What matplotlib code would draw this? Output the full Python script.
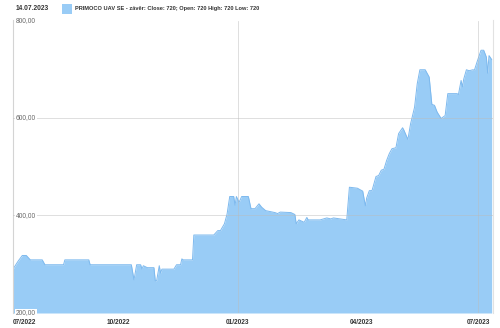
import matplotlib
matplotlib.use("Agg")
import matplotlib.pyplot as plt
import pandas as pd

plt.rcParams['font.family'] = ['Liberation Sans', 'DejaVu Sans']

title_date = "14.07.2023"
series_label = "PRIMOCO UAV SE - závěr: Close: 720; Open: 720 High: 720 Low: 720"

dates = ['2022-07-16','2022-07-20','2022-07-23','2022-07-26','2022-07-29','2022-08-07','2022-08-09','2022-08-23','2022-08-24','2022-09-11',
         '2022-09-12','2022-10-13','2022-10-15','2022-10-17','2022-10-20','2022-10-21','2022-10-22','2022-10-25','2022-10-30','2022-10-31',
         '2022-11-01','2022-11-03','2022-11-04','2022-11-05','2022-11-14','2022-11-16','2022-11-19','2022-11-20','2022-11-21','2022-11-28',
         '2022-11-29','2022-12-14','2022-12-17','2022-12-19','2022-12-22','2022-12-24','2022-12-26','2022-12-29','2022-12-30','2022-12-31',
         '2023-01-02','2023-01-04','2023-01-09','2023-01-11','2023-01-14','2023-01-17','2023-01-19','2023-01-22','2023-01-29','2023-01-31',
         '2023-02-02','2023-02-10','2023-02-13','2023-02-14','2023-02-16','2023-02-20','2023-02-22','2023-02-23','2023-03-04','2023-03-09',
         '2023-03-12','2023-03-14','2023-03-24','2023-03-26','2023-04-01','2023-04-05','2023-04-07','2023-04-08','2023-04-10','2023-04-12',
         '2023-04-15','2023-04-17','2023-04-19','2023-04-21','2023-04-23','2023-04-25','2023-04-27','2023-04-30','2023-05-02','2023-05-05',
         '2023-05-06','2023-05-09','2023-05-11','2023-05-14','2023-05-16','2023-05-18','2023-05-22','2023-05-25','2023-05-27','2023-05-29',
         '2023-05-31','2023-06-03','2023-06-06','2023-06-08','2023-06-15','2023-06-16','2023-06-18','2023-06-19','2023-06-20','2023-06-22',
         '2023-06-24','2023-06-27','2023-06-28','2023-06-30','2023-07-03','2023-07-05','2023-07-07','2023-07-08','2023-07-09','2023-07-11']

close = [290, 307, 318, 318, 309, 309, 299, 299, 309, 309,
         299, 299, 268, 299, 299, 290, 297, 293, 293, 266,
         266, 297, 282, 290, 290, 299, 299, 311, 309, 309,
         360, 360, 369, 369, 383, 403, 439, 439, 421, 439,
         427, 439, 439, 414, 414, 424, 417, 410, 406, 404,
         407, 406, 402, 383, 391, 386, 396, 391, 391, 395,
         393, 395, 391, 458, 456, 450, 420, 436, 451, 451,
         480, 482, 493, 495, 513, 527, 537, 539, 568, 580,
         575, 556, 588, 622, 670, 699, 699, 684, 628, 626,
         612, 599, 605, 650, 650, 648, 677, 664, 680, 699,
         697, 699, 698, 715, 739, 739, 725, 692, 728, 720]

y_ticks = [200, 400, 600, 800]
y_tick_labels = ["200,00", "400,00", "600,00", "800,00"]
x_tick_dates = ['2022-07-16', '2022-10-03', '2023-01-01', '2023-04-04', '2023-07-01']
x_tick_labels = ["07/2022", "10/2022", "01/2023", "04/2023", "07/2023"]
v_grid_dates = ['2023-01-01', '2023-07-01']

d = pd.to_datetime(dates)

fig = plt.figure(figsize=(5.0, 3.28), dpi=100)
ax = fig.add_axes([13/500, 1-313/328, 480/500, (313-20.5)/328])

fill_c = '#99ccf6'
line_c = '#7db9ee'
ax.fill_between(d, close, 200, color=fill_c, lw=0, zorder=1)
ax.plot(d, close, color=line_c, lw=0.7, zorder=2)

ax.set_ylim(200, 800)
ax.set_xlim(d[0], d[-1] + pd.Timedelta(days=1))

grid_c = '#bbbbbb'
for yv in y_ticks[1:]:
    ax.axhline(yv, color=grid_c, lw=0.6, alpha=0.55, zorder=3)
for gd in pd.to_datetime(v_grid_dates):
    ax.axvline(gd, color=grid_c, lw=0.6, alpha=0.55, zorder=3)

for s in ['top', 'bottom']:
    ax.spines[s].set_visible(False)
ax.spines['left'].set_color('#d4d4d4')
ax.spines['left'].set_linewidth(0.8)
ax.spines['right'].set_color('#e2e2e2')
ax.spines['right'].set_linewidth(0.8)

ax.set_yticks([])
for yv, lab in zip(y_ticks, y_tick_labels):
    ax.text(0.006, yv, lab, transform=ax.get_yaxis_transform(), ha='left', va='center',
            fontsize=4.8, color='#666666', zorder=5,
            bbox=dict(boxstyle='square,pad=0.15', fc='white', ec='none'))

ax.set_xticks(pd.to_datetime(x_tick_dates))
ax.set_xticklabels(x_tick_labels, fontsize=4.7, fontweight='bold', color='#333333')
ax.tick_params(axis='x', length=0, pad=4)
ax.get_xticklabels()[0].set_ha('left')

fig.text(16/500, 1-8.5/328, title_date, fontsize=4.8, fontweight='bold', color='#333333', ha='left', va='center')
fig.patches.append(plt.Rectangle((62/500, 1-13.5/328), 10/500, 9/328, transform=fig.transFigure,
                                 facecolor=fill_c, edgecolor='none'))
fig.text(75/500, 1-8.5/328, series_label, fontsize=4.1, fontweight='bold', color='#333333', ha='left', va='center')

fig.savefig('out.png', dpi=100)
